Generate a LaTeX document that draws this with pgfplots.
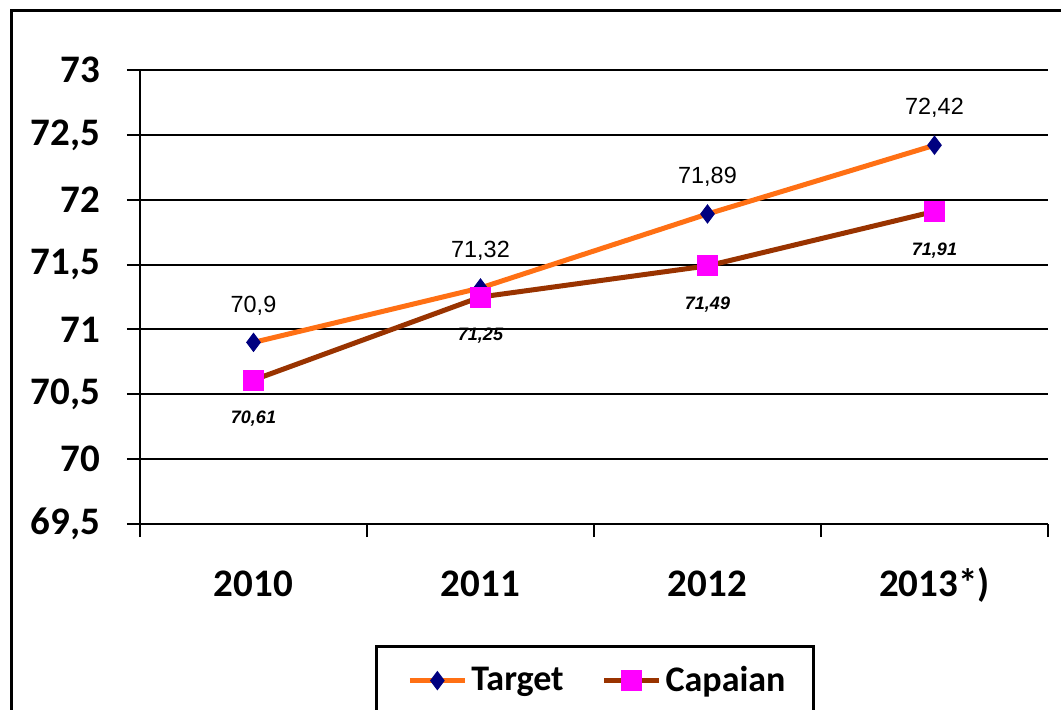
\documentclass[border=0pt]{standalone}
\usepackage{fontspec}
\setmainfont{Carlito}
\newfontfamily\lab{Liberation Sans}
\usepackage{pgfplots}
\usepackage{pgfplotstable}
\pgfplotsset{compat=1.18}
\definecolor{torange}{RGB}{255,112,20}
\definecolor{cbrown}{RGB}{153,51,0}
\definecolor{tnavy}{RGB}{0,0,128}
\definecolor{cmag}{RGB}{255,0,255}

\pgfplotstableread{
x y lab
0 70.9 70,9
1 71.32 71,32
2 71.89 71,89
3 72.42 72,42
}\target
\pgfplotstableread{
x y lab
0 70.61 70,61
1 71.25 71,25
2 71.49 71,49
3 71.91 71,91
}\capaian

\begin{document}
\begin{tikzpicture}[x=1pt,y=1pt]
\path[use as bounding box] (0,0) rectangle (530.5,354.5);
\draw[line width=1.5pt] (5.5,-5) -- (5.5,349) -- (540,349);
\begin{axis}[
  at={(70pt,92.5pt)}, anchor=south west,
  scale only axis, width=454pt, height=227pt,
  xmin=-0.5, xmax=3.5, ymin=69.5, ymax=73,
  ytick={69.5,70,70.5,71,71.5,72,72.5,73},
  /pgf/number format/use comma,
  /pgf/number format/assume math mode=true,
  axis lines=left,
  axis line style={-, line width=1pt, black},
  ymajorgrids, grid style={black, line width=1pt},
  tick align=outside, major tick length=6.5pt,
  tick style={black, line width=1pt},
  xtick={-0.5,0.5,1.5,2.5},
  xticklabels={2010,2011,2012,2013*)},
  extra x ticks={3.5}, extra x tick labels={},
  tick label style={font=\bfseries\fontsize{19.5}{20}\selectfont},
  xticklabel style={xshift=56.75pt, yshift=-10.8pt, text height=15.5pt},
  yticklabel style={xshift=-10pt},
  clip=false,
  legend style={at={(axis description cs:0.501,-0.2665)}, anchor=north,
    draw=black, line width=1.5pt,
    font=\bfseries\fontsize{18}{19}\selectfont,
    legend columns=2,
    /tikz/every even column/.append style={column sep=13.5pt},
    inner xsep=12pt, inner ysep=8pt},
  legend image code/.code={\path (0pt,0pt); \draw[mark repeat=2,mark phase=2] plot coordinates {(3.5pt,0pt)(17.25pt,0pt)(31pt,0pt)};},
]
\addplot[torange, line width=2.5pt, mark=diamond*, mark size=4.5pt,
  mark options={tnavy, fill=tnavy, line width=0.5pt},
  nodes near coords, point meta=explicit symbolic,
  nodes near coords style={font=\lab\fontsize{11.7}{12}\selectfont, anchor=center, yshift=18.5pt, text=black}]
  table[x=x,y=y,meta=lab]{\target};
\addlegendentry{Target}
\addplot[cbrown, line width=2.5pt, mark=square*, mark size=5pt,
  mark options={cmag, fill=cmag, line width=0.5pt},
  nodes near coords, point meta=explicit symbolic,
  nodes near coords style={font=\lab\bfseries\itshape\fontsize{9}{10}\selectfont, anchor=center, yshift=-19.5pt, text=black}]
  table[x=x,y=y,meta=lab]{\capaian};
\addlegendentry{Capaian}
\end{axis}
\end{tikzpicture}
\end{document}
